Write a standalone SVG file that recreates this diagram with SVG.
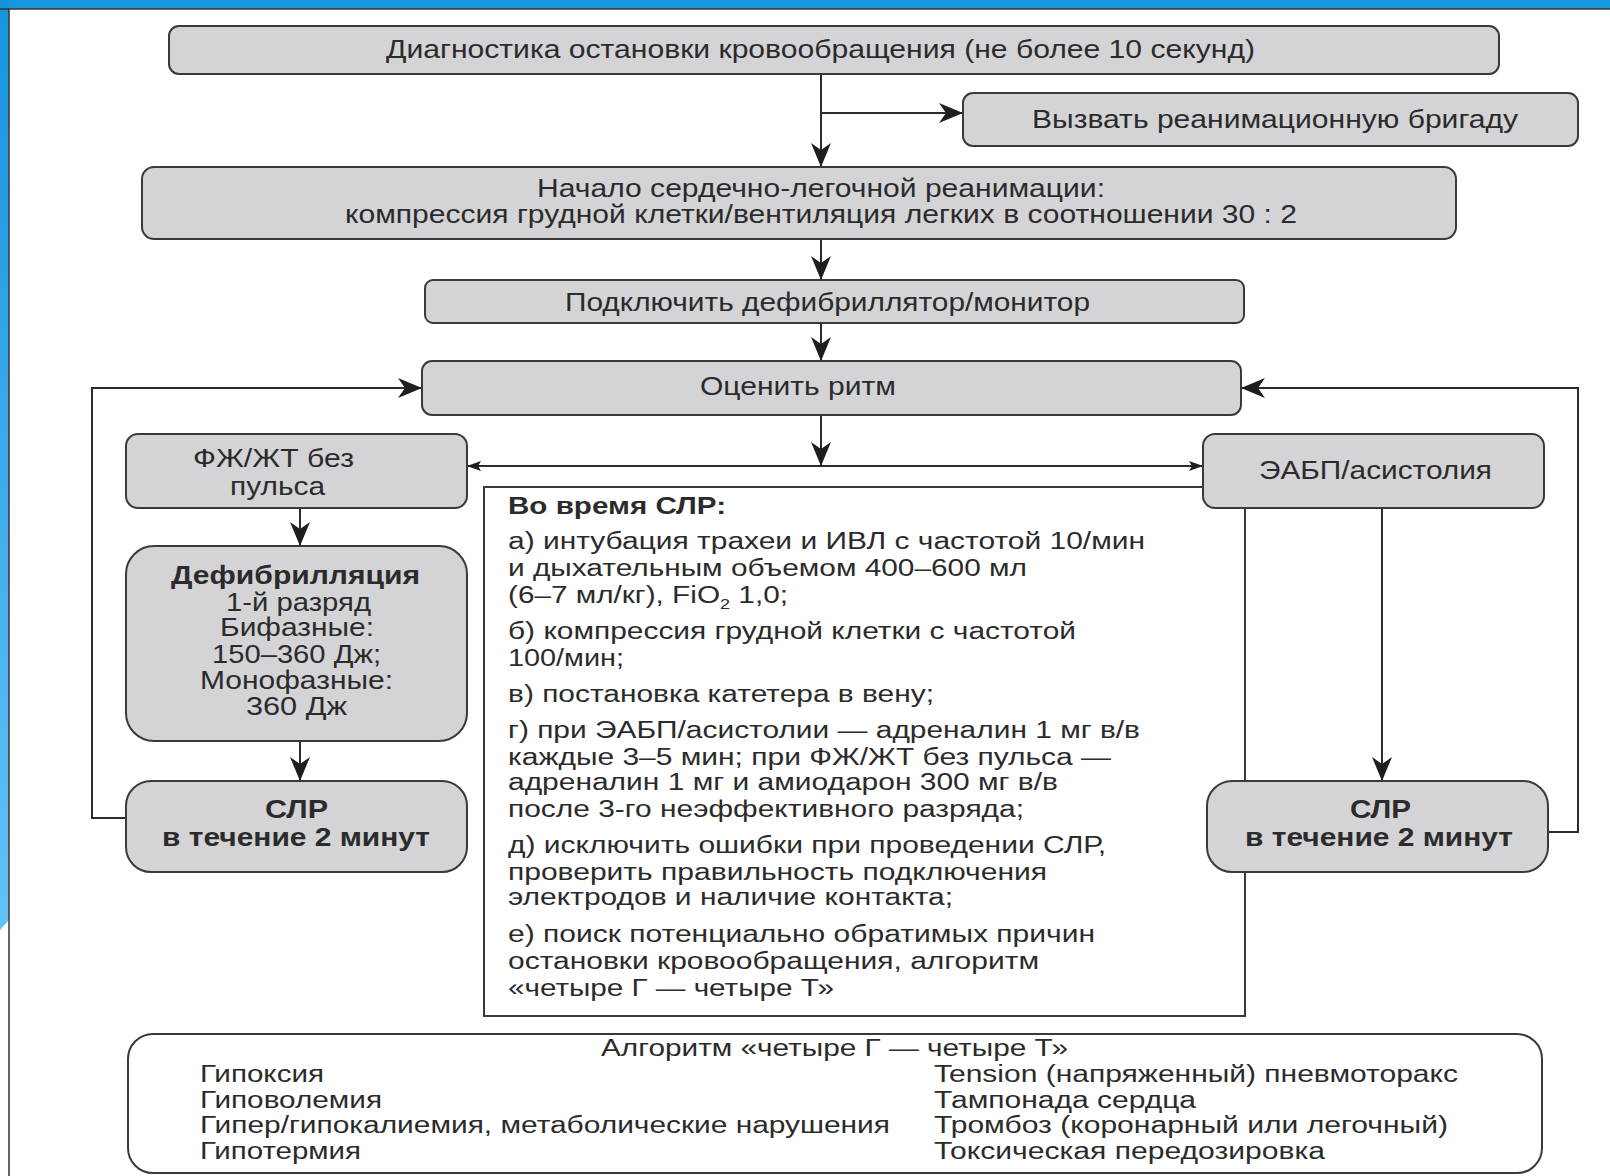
<svg xmlns="http://www.w3.org/2000/svg" width="1610" height="1176" viewBox="0 0 1610 1176">
<style>
.box{fill:#d4d4d6;stroke:#3a3a3a;stroke-width:2}
.wbox{fill:#ffffff;stroke:#3a3a3a;stroke-width:2}
.t{font-family:"Liberation Sans",Arial,sans-serif;fill:#2b2b2b;font-size:25px}
.c{font-family:"Liberation Sans",Arial,sans-serif;fill:#2b2b2b;font-size:23px}
.b{font-weight:bold}
.ln{fill:none;stroke:#2b2b2b;stroke-width:2}
</style>
<defs>
<linearGradient id="lg" x1="0" y1="0" x2="0" y2="1">
<stop offset="0" stop-color="#1594de"/>
<stop offset="1" stop-color="#63c2f8"/>
</linearGradient>
<marker id="ah" viewBox="0 0 24 20" refX="24" refY="10" markerWidth="24" markerHeight="20" markerUnits="userSpaceOnUse" orient="auto">
<path d="M0,0 L24,10 L0,20 L7,10 z" fill="#1e1e1e"/>
</marker>
<marker id="as" viewBox="0 0 14 10" refX="14" refY="5" markerWidth="14" markerHeight="10" markerUnits="userSpaceOnUse" orient="auto-start-reverse">
<path d="M0,0 L14,5 L0,10 L3,5 z" fill="#1e1e1e"/>
</marker>
</defs>
<rect x="0" y="0" width="1610" height="1176" fill="#ffffff"/>
<rect x="0" y="0" width="1610" height="9" fill="#1597e0"/>
<path d="M0,0 H9 V920 L0,930 z" fill="url(#lg)"/>
<line x1="0" y1="9" x2="1610" y2="9" stroke="#333" stroke-width="1.5"/>
<line x1="9" y1="9" x2="9" y2="1176" stroke="#333" stroke-width="1.5"/>

<g id="connectors">
<path class="ln" d="M821,74 V167" marker-end="url(#ah)"/>
<path class="ln" d="M821,113 H963" marker-end="url(#ah)"/>
<path class="ln" d="M821,239 V280" marker-end="url(#ah)"/>
<path class="ln" d="M821,323 V361" marker-end="url(#ah)"/>
<path class="ln" d="M821,415 V466" marker-end="url(#ah)"/>
<path class="ln" d="M467,466 H1203" marker-start="url(#as)" marker-end="url(#as)"/>
<path class="ln" d="M300,508 V546" marker-end="url(#ah)"/>
<path class="ln" d="M300,741 V781" marker-end="url(#ah)"/>
<path class="ln" d="M126,818 H92 V388 H422" marker-end="url(#ah)"/>
<path class="ln" d="M1382,508 V781" marker-end="url(#ah)"/>
<path class="ln" d="M1548,832 H1578 V388 H1241" marker-end="url(#ah)"/>
</g>

<g id="n1"><rect class="box" x="169" y="26" width="1330" height="48" rx="10"/>
<text class="t" x="386" y="58" textLength="869" lengthAdjust="spacingAndGlyphs">Диагностика остановки кровообращения (не более 10 секунд)</text></g>
<g id="n2"><rect class="box" x="963" y="93" width="615" height="53" rx="10"/>
<text class="t" x="1032" y="128" textLength="486" lengthAdjust="spacingAndGlyphs">Вызвать реанимационную бригаду</text></g>
<g id="n3"><rect class="box" x="142" y="167" width="1314" height="72" rx="12"/>
<text class="t" x="537" y="197" textLength="568" lengthAdjust="spacingAndGlyphs">Начало сердечно-легочной реанимации:</text>
<text class="t" x="345" y="223" textLength="952" lengthAdjust="spacingAndGlyphs">компрессия грудной клетки/вентиляция легких в соотношении 30 : 2</text></g>
<g id="n4"><rect class="box" x="425" y="280" width="819" height="43" rx="8"/>
<text class="t" x="565" y="311" textLength="525" lengthAdjust="spacingAndGlyphs">Подключить дефибриллятор/монитор</text></g>
<g id="n5"><rect class="box" x="422" y="361" width="819" height="54" rx="10"/>
<text class="t" x="700" y="395" textLength="196" lengthAdjust="spacingAndGlyphs">Оценить ритм</text></g>

<g id="n11"><rect class="wbox" x="484" y="487" width="761" height="529"/>
<text class="c b" x="508" y="514" textLength="218" lengthAdjust="spacingAndGlyphs">Во время СЛР:</text>
<text class="c" x="508" y="549" textLength="637" lengthAdjust="spacingAndGlyphs">а) интубация трахеи и ИВЛ с частотой 10/мин</text>
<text class="c" x="508" y="576" textLength="519" lengthAdjust="spacingAndGlyphs">и дыхательным объемом 400–600 мл</text>
<text class="c" x="508" y="603" textLength="280" lengthAdjust="spacingAndGlyphs">(6–7 мл/кг), FiO<tspan font-size="14" dy="6">2</tspan><tspan dy="-6"> 1,0;</tspan></text>
<text class="c" x="508" y="639" textLength="568" lengthAdjust="spacingAndGlyphs">б) компрессия грудной клетки с частотой</text>
<text class="c" x="508" y="666" textLength="116" lengthAdjust="spacingAndGlyphs">100/мин;</text>
<text class="c" x="508" y="702" textLength="426" lengthAdjust="spacingAndGlyphs">в) постановка катетера в вену;</text>
<text class="c" x="508" y="738" textLength="632" lengthAdjust="spacingAndGlyphs">г) при ЭАБП/асистолии — адреналин 1 мг в/в</text>
<text class="c" x="508" y="765" textLength="603" lengthAdjust="spacingAndGlyphs">каждые 3–5 мин; при ФЖ/ЖТ без пульса —</text>
<text class="c" x="508" y="790" textLength="550" lengthAdjust="spacingAndGlyphs">адреналин 1 мг и амиодарон 300 мг в/в</text>
<text class="c" x="508" y="817" textLength="516" lengthAdjust="spacingAndGlyphs">после 3-го неэффективного разряда;</text>
<text class="c" x="508" y="853" textLength="598" lengthAdjust="spacingAndGlyphs">д) исключить ошибки при проведении СЛР,</text>
<text class="c" x="508" y="880" textLength="539" lengthAdjust="spacingAndGlyphs">проверить правильность подключения</text>
<text class="c" x="508" y="905" textLength="445" lengthAdjust="spacingAndGlyphs">электродов и наличие контакта;</text>
<text class="c" x="508" y="942" textLength="587" lengthAdjust="spacingAndGlyphs">е) поиск потенциально обратимых причин</text>
<text class="c" x="508" y="969" textLength="531" lengthAdjust="spacingAndGlyphs">остановки кровообращения, алгоритм</text>
<text class="c" x="508" y="996" textLength="326" lengthAdjust="spacingAndGlyphs">«четыре Г — четыре Т»</text></g>

<g id="n6"><rect class="box" x="126" y="434" width="341" height="74" rx="12"/>
<text class="t" x="193" y="467" textLength="161" lengthAdjust="spacingAndGlyphs">ФЖ/ЖТ без</text>
<text class="t" x="230" y="495" textLength="95" lengthAdjust="spacingAndGlyphs">пульса</text></g>
<g id="n7"><rect class="box" x="126" y="546" width="341" height="195" rx="28"/>
<text class="t b" x="171" y="584" textLength="249" lengthAdjust="spacingAndGlyphs">Дефибрилляция</text>
<text class="t" x="226" y="611" textLength="145" lengthAdjust="spacingAndGlyphs">1-й разряд</text>
<text class="t" x="220" y="636" textLength="154" lengthAdjust="spacingAndGlyphs">Бифазные:</text>
<text class="t" x="212" y="663" textLength="169" lengthAdjust="spacingAndGlyphs">150–360 Дж;</text>
<text class="t" x="200" y="689" textLength="193" lengthAdjust="spacingAndGlyphs">Монофазные:</text>
<text class="t" x="246" y="715" textLength="101" lengthAdjust="spacingAndGlyphs">360 Дж</text></g>
<g id="n8"><rect class="box" x="126" y="781" width="341" height="91" rx="25"/>
<text class="t b" x="265" y="818" textLength="63" lengthAdjust="spacingAndGlyphs">СЛР</text>
<text class="t b" x="162" y="846" textLength="268" lengthAdjust="spacingAndGlyphs">в течение 2 минут</text></g>
<g id="n9"><rect class="box" x="1203" y="434" width="341" height="74" rx="12"/>
<text class="t" x="1259" y="479" textLength="233" lengthAdjust="spacingAndGlyphs">ЭАБП/асистолия</text></g>
<g id="n10"><rect class="box" x="1207" y="781" width="341" height="91" rx="25"/>
<text class="t b" x="1350" y="818" textLength="61" lengthAdjust="spacingAndGlyphs">СЛР</text>
<text class="t b" x="1245" y="846" textLength="268" lengthAdjust="spacingAndGlyphs">в течение 2 минут</text></g>

<g id="n12"><rect class="wbox" x="128" y="1034" width="1414" height="139" rx="25"/>
<text class="c" x="601" y="1056" textLength="467" lengthAdjust="spacingAndGlyphs">Алгоритм «четыре Г — четыре Т»</text>
<text class="c" x="200" y="1082" textLength="124" lengthAdjust="spacingAndGlyphs">Гипоксия</text>
<text class="c" x="200" y="1108" textLength="182" lengthAdjust="spacingAndGlyphs">Гиповолемия</text>
<text class="c" x="200" y="1133" textLength="690" lengthAdjust="spacingAndGlyphs">Гипер/гипокалиемия, метаболические нарушения</text>
<text class="c" x="200" y="1159" textLength="161" lengthAdjust="spacingAndGlyphs">Гипотермия</text>
<text class="c" x="934" y="1082" textLength="524" lengthAdjust="spacingAndGlyphs">Tension (напряженный) пневмоторакс</text>
<text class="c" x="934" y="1108" textLength="262" lengthAdjust="spacingAndGlyphs">Тампонада сердца</text>
<text class="c" x="934" y="1133" textLength="514" lengthAdjust="spacingAndGlyphs">Тромбоз (коронарный или легочный)</text>
<text class="c" x="934" y="1159" textLength="391" lengthAdjust="spacingAndGlyphs">Токсическая передозировка</text></g>
</svg>
